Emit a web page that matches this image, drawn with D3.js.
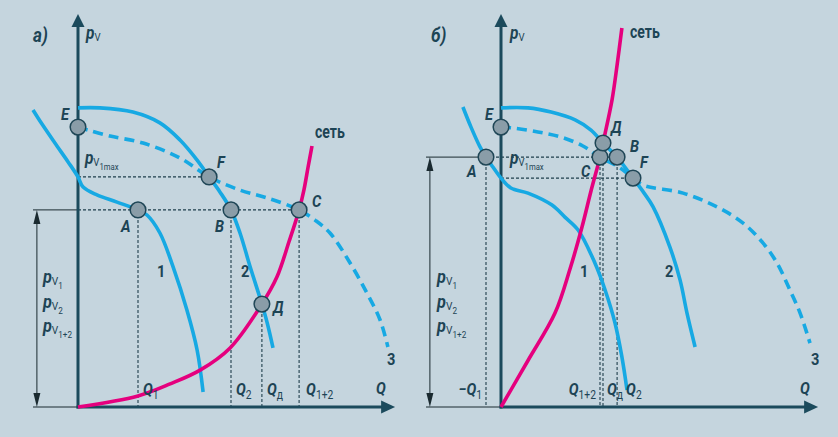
<!DOCTYPE html>
<html>
<head>
<meta charset="utf-8">
<script src="https://cdn.jsdelivr.net/npm/d3@7"></script>
<style>
  html, body { margin: 0; padding: 0; background: #c5d5de; }
  svg { display: block; }
  text { font-family: Roboto, "Noto Sans", sans-serif; fill: #1d4455; }
</style>
</head>
<body>
<svg id="chart" width="838" height="437"></svg>
<script>
// ---- panel а): pumps in a network, characteristics [Q, p] in relative units ----
const pump1A    = [[-15,99],[-12,94.3],[-7.7,88],[-3.3,81.7],[0,76.7],[1.7,73.3],[6.3,70.7],[13,68.3],[20,65.7],[23,64],[27.3,58],[31.7,46.7],[36.3,32.3],[39.7,19],[41.7,5]];
const pump2A    = [[0,99.7],[7.3,99.7],[18.3,98.3],[27.3,94.7],[34,89],[39.7,82.3],[43.7,76.7],[47.3,71.7],[51,65.7],[54,58],[57.3,47],[61.3,34.3],[63.2,27.5],[65,19.7]];
const combinedA = [[0,93.3],[3.3,92.3],[10.7,90.3],[21.7,88],[34,83],[43.7,76.7],[54,72.3],[63,69.7],[73.7,65.7],[79,62.3],[84,58],[90.7,48],[96.3,38],[100.7,29],[103.3,20]];
const networkA  = [[0,0],[20,3.7],[30.7,7.7],[40.7,12.3],[50.7,19.7],[61.3,34.3],[66.3,43.3],[70.3,55],[73.7,65.7],[75.3,72.3],[76.7,80],[78,87]];
const pointsA = [
  {name: "E", q: 0,    p: 93.3},
  {name: "F", q: 43.7, p: 76.7},
  {name: "A", q: 20,   p: 65.7},
  {name: "B", q: 51,   p: 65.7},
  {name: "C", q: 73.7, p: 65.7},
  {name: "Д", q: 61.3, p: 34.3}
];
const qTicksA = [
  {q: 20,   main: "Q", sub: "1"},
  {q: 51,   main: "Q", sub: "2"},
  {q: 61.3, main: "Q", sub: "д"},
  {q: 73.7, main: "Q", sub: "1+2"}
];

// ---- panel б) ----
const pump1B    = [[-12.7,100],[-10,93.3],[-7,86.7],[-5,83.3],[-2.7,80],[0,76.3],[3.3,73],[9,71.3],[17,67.3],[21.3,63.3],[25.7,59],[31.3,48],[34.7,39],[38,28],[40.3,16.7],[42,5.7]];
const pump2B    = [[0,99.7],[9,99.7],[16.7,98.3],[24.7,95.7],[30,92.3],[34,88],[38.7,83.3],[44,76.3],[47.7,71.3],[50.7,66.7],[56.3,53.3],[59.7,42.3],[62,31.3],[64.7,20]];
const combinedB = [[0,93.3],[4,93],[12.3,91.7],[20,90],[27.3,87],[33,83.3],[39.7,79.7],[44,76.3],[47.3,74],[60.7,71.3],[72,66.7],[80.7,61.3],[87.3,54.7],[92,48],[96.3,39],[99.7,31.3],[103,21.3]];
const networkB  = [[0,0],[9,15.5],[18,31.3],[23,46],[27,60],[30,72],[33,83.3],[34,88],[37,102.3],[38.7,114],[40.3,126.3]];
const pointsB = [
  {name: "E", q: 0,    p: 93.3},
  {name: "A", q: -5,   p: 83.3},
  {name: "C", q: 33,   p: 83.3},
  {name: "B", q: 38.7, p: 83.3},
  {name: "Д", q: 34,   p: 88},
  {name: "F", q: 44,   p: 76.3}
];
const qTicksB = [
  {q: -5,   main: "−Q", sub: "1"},
  {q: 33,   main: "Q",  sub: "1+2"},
  {q: 34,   main: "Q",  sub: "д"},
  {q: 38.7, main: "Q",  sub: "2"}
];

const pressureLabels = ["1", "2", "1+2"];
const curveNames = ["1", "2", "3"];

// ---- drawing ----
const C_AXIS = "#1b4a5c", C_PUMP = "#17a9e3", C_NET = "#e5007e";
const svg = d3.select("#chart");
const y = d3.scaleLinear().domain([0, 100]).range([407, 107]);
const Q_END = 105.7, P_END = 131;

function rich(g, x, yy, parts, anchor) {
  const t = g.append("text")
    .attr("transform", `translate(${x},${yy}) scale(0.86,1)`)
    .attr("text-anchor", anchor || "start");
  let shift = 0;
  parts.forEach(pt => {
    const s = t.append("tspan").text(pt.t)
      .attr("font-size", pt.size)
      .attr("font-weight", pt.weight || 700)
      .attr("font-style", pt.italic ? "italic" : "normal");
    const dy = (pt.dy || 0) - shift;
    if (dy) s.attr("dy", dy);
    shift = pt.dy || 0;
  });
  return t;
}
const pLabel = (subsub, size) => {
  const parts = [{t: "p", size: size, italic: true}, {t: "V", size: size * 0.62, weight: 400, dy: 2}];
  if (subsub) parts.push({t: subsub, size: size * 0.5, weight: 400, dy: 6});
  return parts;
};

function panel(cfg) {
  const x = d3.scaleLinear().domain([0, 100]).range([cfg.x0, cfg.x0 + 300]);
  const g = svg.append("g");
  const line = d3.line().x(d => x(d[0])).y(d => y(d[1])).curve(d3.curveCatmullRom.alpha(0.5));
  const guide = (q1, p1, q2, p2) => g.append("line")
    .attr("x1", x(q1)).attr("y1", y(p1)).attr("x2", x(q2)).attr("y2", y(p2))
    .attr("stroke", "#1f3f4c").attr("stroke-width", 1.1).attr("stroke-dasharray", "3,2");
  const thin = (q1, p1, q2, p2) => g.append("line")
    .attr("x1", x(q1)).attr("y1", y(p1)).attr("x2", x(q2)).attr("y2", y(p2))
    .attr("stroke", "#1a2a30").attr("stroke-width", 1);

  // reference lines
  cfg.hGuides.forEach(h => guide(h[0], h[2], h[1], h[2]));
  cfg.drops.forEach(pt => guide(pt.q, pt.p, pt.q, 0));
  thin(cfg.leftEdge, cfg.level, cfg.levelFrom, cfg.level);
  thin(cfg.leftEdge, 0, 0, 0);

  // pressure double arrow
  const ax = x(cfg.arrowQ), yTop = y(cfg.level), yBot = y(0);
  g.append("line").attr("x1", ax).attr("x2", ax).attr("y1", yTop + 10).attr("y2", yBot - 10)
    .attr("stroke", "#1a2a30").attr("stroke-width", 1);
  g.append("path").attr("d", `M${ax},${yTop}L${ax - 3.5},${yTop + 14}L${ax + 3.5},${yTop + 14}Z`).attr("fill", "#1a2a30");
  g.append("path").attr("d", `M${ax},${yBot}L${ax - 3.5},${yBot - 14}L${ax + 3.5},${yBot - 14}Z`).attr("fill", "#1a2a30");

  // axes
  g.append("line").attr("x1", x(0)).attr("x2", x(0)).attr("y1", y(0) + 1.5).attr("y2", y(P_END) + 8)
    .attr("stroke", C_AXIS).attr("stroke-width", 3);
  g.append("line").attr("x1", x(0) - 1.5).attr("x2", x(Q_END) - 8).attr("y1", y(0)).attr("y2", y(0))
    .attr("stroke", C_AXIS).attr("stroke-width", 3);
  g.append("path").attr("d", `M${x(0)},${y(P_END)}L${x(0) - 6.5},${y(P_END) + 13}L${x(0) + 6.5},${y(P_END) + 13}Z`).attr("fill", C_AXIS);
  g.append("path").attr("d", `M${x(Q_END)},${y(0)}L${x(Q_END) - 14},${y(0) - 6.5}L${x(Q_END) - 14},${y(0) + 6.5}Z`).attr("fill", C_AXIS);

  // characteristics
  [cfg.pump1, cfg.pump2].forEach(d => g.append("path").attr("d", line(d))
    .attr("fill", "none").attr("stroke", C_PUMP).attr("stroke-width", 3.6));
  g.append("path").attr("d", line(cfg.combined)).attr("fill", "none")
    .attr("stroke", C_PUMP).attr("stroke-width", 3.6).attr("stroke-dasharray", "10,6");
  g.append("path").attr("d", line(cfg.network)).attr("fill", "none")
    .attr("stroke", C_NET).attr("stroke-width", 3.6);

  // operating points
  g.selectAll("circle.pt").data(cfg.points).join("circle")
    .attr("cx", d => x(d.q)).attr("cy", d => y(d.p)).attr("r", 7.8)
    .attr("fill", "#8a9da8").attr("stroke", "#1f4656").attr("stroke-width", 1.5);
  cfg.points.forEach(d => {
    const o = cfg.pointLabelOffset[d.name];
    rich(g, x(d.q) + o[0], y(d.p) + o[1], [{t: d.name, size: 17, italic: true}]);
  });

  // texts
  rich(g, x(cfg.title[1]), y(cfg.title[2]), [{t: cfg.title[0], size: 20, italic: true}]);
  rich(g, x(cfg.axisP[0]), y(cfg.axisP[1]), pLabel(null, 18));
  rich(g, x(cfg.axisQ[0]), y(cfg.axisQ[1]), [{t: "Q", size: 17, italic: true}]);
  rich(g, x(cfg.pmax[0]), y(cfg.pmax[1]), pLabel("1max", 18));
  pressureLabels.forEach((s, i) =>
    rich(g, x(cfg.side[0]), y(cfg.side[1]) + i * 24.5, pLabel(s, 19)));
  curveNames.forEach((s, i) =>
    rich(g, x(cfg.names[i][0]), y(cfg.names[i][1]), [{t: s, size: 17}]));
  rich(g, x(cfg.net[0]), y(cfg.net[1]), [{t: "сеть", size: 18}]).attr("transform",
    `translate(${x(cfg.net[0])},${y(cfg.net[1])}) scale(0.78,1)`);
  cfg.qTicks.forEach((d, i) => {
    const o = cfg.qTickOffset[i];
    rich(g, x(d.q) + o[0], y(0) - 12, [{t: d.main, size: 17, italic: true}, {t: d.sub, size: 12, weight: 400, dy: 4}], o[1]);
  });
}

panel({
  x0: 78,
  pump1: pump1A, pump2: pump2A, combined: combinedA, network: networkA, points: pointsA,
  qTicks: qTicksA,
  qTickOffset: [[5, "start"], [5, "start"], [5, "start"], [7, "start"]],
  hGuides: [[0, 43.7, 76.7], [0, 73.7, 65.7]],
  drops: [pointsA[2], pointsA[3], pointsA[5], pointsA[4]],
  level: 65.7, levelFrom: 0, leftEdge: -15, arrowQ: -13.7,
  pointLabelOffset: {E: [-17, -7], F: [8, -9], A: [-17, 22], B: [-16, 22], C: [13, -3], "Д": [11, 9]},
  title: ["а)", -15, 121.7], axisP: [2.7, 122.7], axisQ: [99.3, 4.3], pmax: [2.3, 81],
  side: [-11.7, 41.3],
  names: [[26.3, 43.3], [54.3, 43.3], [103, 14]],
  net: [79, 89.7]
});

panel({
  x0: 501,
  pump1: pump1B, pump2: pump2B, combined: combinedB, network: networkB, points: pointsB,
  qTicks: qTicksB,
  qTickOffset: [[-4, "end"], [-4, "end"], [4, "start"], [9, "start"]],
  hGuides: [[-5, 38.7, 83.3], [0, 44, 76.3]],
  drops: [pointsB[1], pointsB[2], pointsB[4], pointsB[3]],
  level: 83.3, levelFrom: -5, leftEdge: -25, arrowQ: -23.7,
  pointLabelOffset: {E: [-16, -7], A: [-19, 20], C: [-19, 20], B: [13, -5], "Д": [8, -10], F: [7, -10]},
  title: ["б)", -23.3, 121.7], axisP: [3, 122.7], axisQ: [99.7, 4.3], pmax: [3, 81],
  side: [-21.3, 41.3],
  names: [[26.3, 43.3], [54.7, 43.3], [103.3, 14]],
  net: [43, 123]
});
</script>
</body>
</html>
